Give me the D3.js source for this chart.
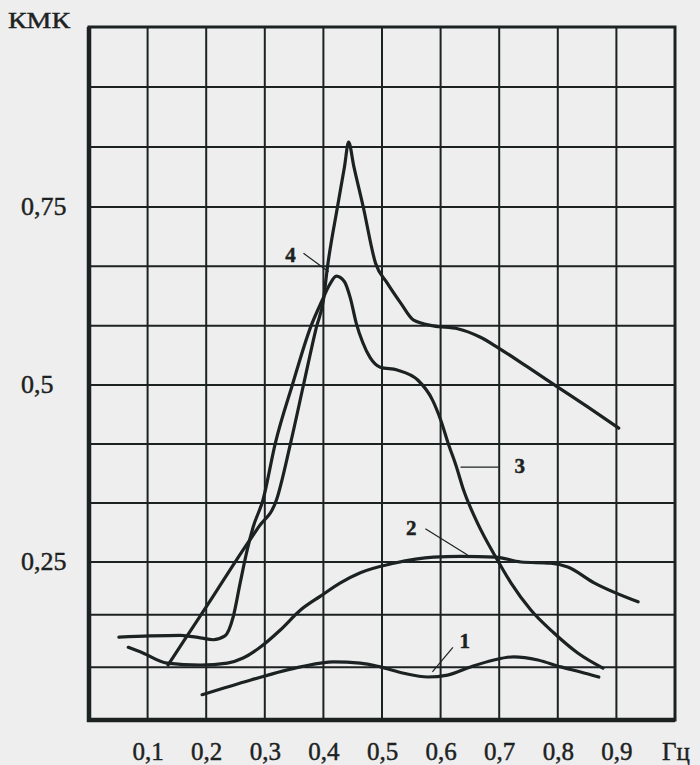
<!DOCTYPE html>
<html>
<head>
<meta charset="utf-8">
<script src="https://cdn.jsdelivr.net/npm/d3@7/dist/d3.min.js"></script>
<style>
  html, body { margin: 0; padding: 0; background: #eeeeee; }
  svg { display: block; }
  text { font-family: "Liberation Serif", "DejaVu Serif", serif; fill: #1c2222; stroke: #1c2222; stroke-width: 0.45px; }
</style>
</head>
<body>
<div id="chart"></div>
<script>

// частота, Гц
var xTicks = [0.1, 0.2, 0.3, 0.4, 0.5, 0.6, 0.7, 0.8, 0.9];
var yTicks = [0.25, 0.5, 0.75];
var yGrid = [1/12, 2/12, 3/12, 4/12, 5/12, 6/12, 7/12, 8/12, 9/12, 10/12, 11/12];

// [частота, КМК]
var curve1 = [[0.193,0.040],[0.275,0.063],[0.361,0.084],[0.417,0.092],[0.463,0.090],[0.497,0.084],
              [0.537,0.074],[0.578,0.068],[0.612,0.071],[0.651,0.084],[0.691,0.095],[0.725,0.100],
              [0.766,0.095],[0.805,0.084],[0.839,0.076],[0.870,0.068]];

var curve2 = [[0.067,0.115],[0.092,0.106],[0.133,0.090],[0.190,0.087],[0.236,0.090],[0.263,0.098],
              [0.292,0.115],[0.326,0.142],[0.361,0.174],[0.395,0.196],[0.429,0.217],[0.463,0.233],
              [0.520,0.248],[0.588,0.257],[0.634,0.258],[0.694,0.257],[0.737,0.250],[0.788,0.248],
              [0.817,0.242],[0.862,0.217],[0.937,0.187]];

var curve3 = [[0.051,0.131],[0.104,0.133],[0.156,0.134],[0.190,0.130],[0.212,0.127],[0.232,0.133],
              [0.246,0.163],[0.258,0.217],[0.270,0.267],[0.280,0.299],[0.297,0.338],[0.318,0.418],
              [0.347,0.500],[0.378,0.581],[0.398,0.619],[0.410,0.640],[0.422,0.653],[0.436,0.645],
              [0.446,0.622],[0.456,0.587],[0.467,0.560],[0.480,0.538],[0.497,0.525],[0.526,0.521],
              [0.561,0.507],[0.586,0.479],[0.600,0.451],[0.614,0.415],[0.626,0.387],[0.639,0.352],
              [0.663,0.305],[0.694,0.257],[0.720,0.217],[0.754,0.174],[0.793,0.138],[0.834,0.106],
              [0.877,0.082]];

var curve4 = [[0.135,0.087],[0.166,0.131],[0.193,0.169],[0.221,0.209],[0.263,0.267],[0.289,0.299],
              [0.320,0.338],[0.344,0.418],[0.366,0.500],[0.388,0.581],[0.400,0.619],[0.407,0.666],
              [0.424,0.750],[0.436,0.806],[0.443,0.840],[0.452,0.806],[0.468,0.750],[0.489,0.671],
              [0.509,0.643],[0.532,0.615],[0.554,0.591],[0.588,0.583],[0.629,0.579],[0.668,0.567],
              [0.697,0.553],[0.749,0.525],[0.800,0.497],[0.851,0.469],[0.904,0.439]];

// номера кривых: где стоит цифра и куда идёт выноска
var curveLabels = [
    {name: "1", at: [0.641, 0.114], from: [0.621, 0.115], to: [0.586, 0.076]},
    {name: "2", at: [0.550, 0.288], from: [0.574, 0.297], to: [0.646, 0.260]},
    {name: "3", at: [0.735, 0.376], from: [0.634, 0.384], to: [0.699, 0.384]},
    {name: "4", at: [0.344, 0.673], from: [0.366, 0.685], to: [0.409, 0.659]}
];

var margin = {top: 27, right: 25, bottom: 45, left: 89},
    width = 700 - margin.left - margin.right,
    height = 765 - margin.top - margin.bottom;

var ink = "#1c2222";

var x = d3.scaleLinear()
        .domain([0, 1])
        .range([0, width]);

// на скане нижняя четверть сетки чуть сжата, поэтому шкала кусочная
var y = d3.scaleLinear()
        .domain([0, 0.25, 0.5, 0.75, 1])
        .range([height, height - 158, height - 335, height - 513, 0]);

var svg = d3.select("#chart")
            .append("svg")
            .attr("width", width + margin.left + margin.right)
            .attr("height", height + margin.top + margin.bottom)
            .append("g")
            .attr("transform", "translate(" + margin.left + "," + margin.top + ")");

// сетка
svg.selectAll(".vgrid")
    .data(xTicks)
    .enter()
    .append("line")
    .attr("x1", d => x(d)).attr("x2", d => x(d))
    .attr("y1", 0).attr("y2", height)
    .attr("stroke", ink)
    .attr("stroke-width", 2);

svg.selectAll(".hgrid")
    .data(yGrid)
    .enter()
    .append("line")
    .attr("x1", 0).attr("x2", width)
    .attr("y1", d => y(d)).attr("y2", d => y(d))
    .attr("stroke", ink)
    .attr("stroke-width", 2);

// рамка
svg.append("rect")
    .attr("x", 0).attr("y", 0)
    .attr("width", width).attr("height", height)
    .attr("fill", "none")
    .attr("stroke", ink)
    .attr("stroke-width", 3);

svg.append("path")
    .attr("d", "M0,0V" + height + "H" + width)
    .attr("fill", "none")
    .attr("stroke", ink)
    .attr("stroke-width", 4.5);

// подписи осей
var fmt = function(d) { return String(d).replace(".", ","); };

var xAxis = svg.append("g")
    .attr("transform", "translate(0," + height + ")")
    .call(d3.axisBottom(x).tickValues(xTicks).tickSize(0).tickPadding(0).tickFormat(fmt));
xAxis.select(".domain").remove();
xAxis.selectAll("text")
    .attr("y", 40)
    .attr("dy", 0)
    .style("font-family", "Liberation Serif, serif")
    .style("font-size", "25px")
    .style("fill", ink);

var yAxis = svg.append("g")
    .call(d3.axisLeft(y).tickValues(yTicks).tickSize(0).tickFormat(fmt));
yAxis.select(".domain").remove();
yAxis.selectAll("text")
    .attr("x", -68)
    .attr("dy", "0.3em")
    .attr("text-anchor", "start")
    .style("font-family", "Liberation Serif, serif")
    .style("font-size", "26px")
    .style("fill", ink);

svg.append("text")
    .attr("x", -81)
    .attr("y", 1)
    .style("font-size", "24px")
    .attr("textLength", 62)
    .attr("lengthAdjust", "spacingAndGlyphs")
    .text("КМК");

svg.append("text")
    .attr("x", width - 13)
    .attr("y", height + 40)
    .style("font-size", "25px")
    .text("Гц");

// кривые
var valueline = d3.line()
                .x(function(d) { return x(d[0]); })
                .y(function(d) { return y(d[1]); })
                .curve(d3.curveMonotoneX);

[curve1, curve2, curve3, curve4].forEach(function(c) {
    svg.append("path")
        .datum(c)
        .attr("d", valueline)
        .attr("fill", "none")
        .attr("stroke", ink)
        .attr("stroke-width", 3.2)
        .attr("stroke-linejoin", "round")
        .attr("stroke-linecap", "round");
});

// номера и выноски
svg.selectAll(".leader")
    .data(curveLabels)
    .enter()
    .append("line")
    .attr("x1", d => x(d.from[0])).attr("y1", d => y(d.from[1]))
    .attr("x2", d => x(d.to[0])).attr("y2", d => y(d.to[1]))
    .attr("stroke", ink)
    .attr("stroke-width", 1.2);

svg.selectAll(".num")
    .data(curveLabels)
    .enter()
    .append("text")
    .attr("x", d => x(d.at[0]))
    .attr("y", d => y(d.at[1]))
    .attr("text-anchor", "middle")
    .style("font-size", "21px")
    .style("font-weight", "bold")
    .text(d => d.name);

</script>
</body>
</html>
